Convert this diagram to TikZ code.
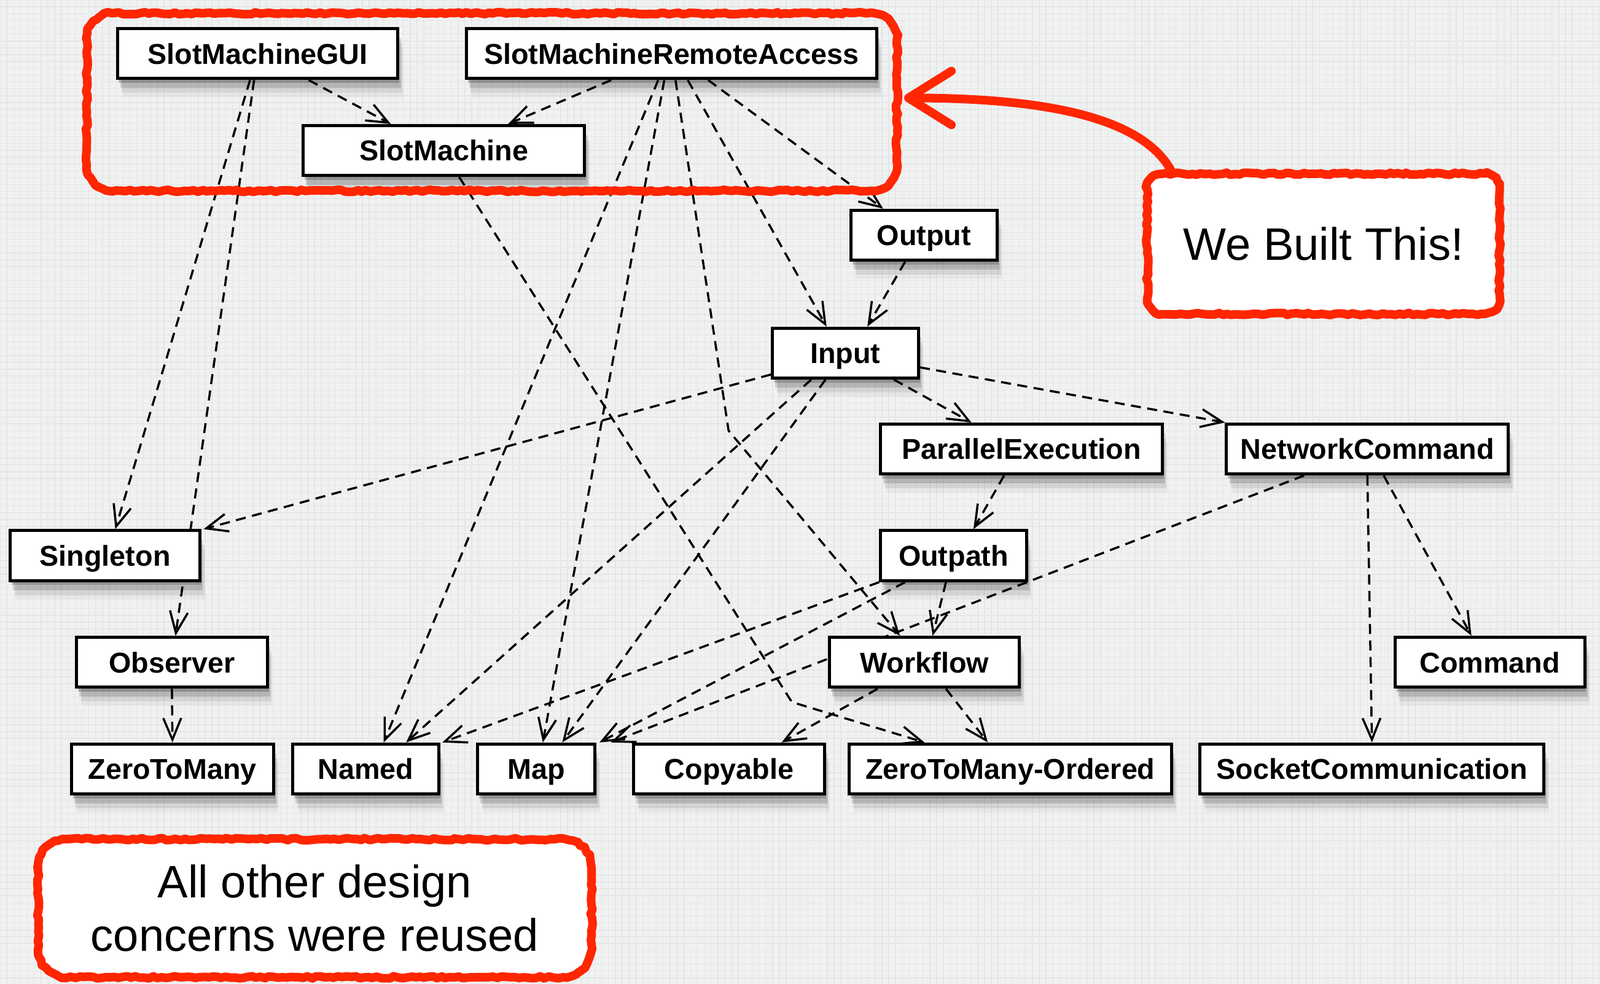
\documentclass[tikz,border=0pt]{standalone}
\usepackage{fontspec}
\setmainfont{Liberation Sans}
\usetikzlibrary{arrows.meta}
\usetikzlibrary{shadows}
\usetikzlibrary{backgrounds}
\usetikzlibrary{decorations.pathmorphing}
\definecolor{markred}{RGB}{255,38,0}
\definecolor{paper}{RGB}{240,241,241}
\definecolor{paperline}{RGB}{229,231,231}

\begin{document}
\begin{tikzpicture}[
			>={Straight Barb[length=6pt,width=5pt]},
			boxshadow/.style={general shadow={shadow xshift=0.4pt, shadow yshift=-1.2pt, fill=black, opacity=0.2}, general shadow={shadow xshift=0.8pt, shadow yshift=-2.6pt, fill=black, opacity=0.14}, general shadow={shadow xshift=1.2pt, shadow yshift=-4pt, fill=black, opacity=0.08}, general shadow={shadow xshift=1.5pt, shadow yshift=-5.2pt, fill=black, opacity=0.04}},
			cls/.style={draw, fill=white, line width=0.85pt, minimum height=0.49cm, inner sep=0pt, text height=5.8pt, text depth=0pt, font=\fontsize{8}{9.6}\selectfont\bfseries, boxshadow},
			dep/.style={->, dash pattern=on 2.8pt off 1.8pt, line width=0.6pt},
			marker/.style={draw=markred, line width=2.4pt, line cap=round, line join=round},
			rough/.style={marker, decorate, decoration={random steps, segment length=1.2pt, amplitude=0.3pt}},
			notetext/.style={align=center, inner sep=0pt, font=\fontsize{12.7}{15}\selectfont}
		]
		\useasboundingbox (0,0) rectangle (15.68,-9.64);

		\begin{pgfonlayer}{background}
			\fill[paper] (0,0) rectangle (15.68,-9.64);
			\draw[paperline, line width=0.25pt, step=0.067] (0,0) grid (15.68,-9.64);
		\end{pgfonlayer}

		\node[cls, minimum width=2.75cm] (gui) at (2.525,-0.525) {SlotMachineGUI};
		\node[cls, minimum width=4.02cm] (remote) at (6.58,-0.525) {SlotMachineRemoteAccess};
		\node[cls, minimum width=2.76cm] (machine) at (4.35,-1.475) {SlotMachine};
		\node[cls, minimum width=1.43cm] (output) at (9.055,-2.305) {Output};
		\node[cls, minimum width=1.43cm] (input) at (8.285,-3.46) {Input};
		\node[cls, minimum width=2.76cm] (parexec) at (10.01,-4.40) {ParallelExecution};
		\node[cls, minimum width=2.76cm] (netcmd) at (13.40,-4.40) {NetworkCommand};
		\node[cls, minimum width=1.86cm] (singleton) at (1.03,-5.445) {Singleton};
		\node[cls, minimum width=1.43cm] (outpath) at (9.345,-5.445) {Outpath};
		\node[cls, minimum width=1.87cm] (observer) at (1.685,-6.49) {Observer};
		\node[cls, minimum width=1.86cm] (workflow) at (9.06,-6.49) {Workflow};
		\node[cls, minimum width=1.86cm] (command) at (14.60,-6.49) {Command};
		\node[cls, minimum width=1.98cm] (zeromany) at (1.69,-7.535) {ZeroToMany};
		\node[cls, minimum width=1.43cm] (named) at (3.585,-7.535) {Named};
		\node[cls, minimum width=1.15cm] (map) at (5.255,-7.535) {Map};
		\node[cls, minimum width=1.87cm] (copyable) at (7.145,-7.535) {Copyable};
		\node[cls, minimum width=3.16cm] (zmordered) at (9.90,-7.535) {ZeroToMany-Ordered};
		\node[cls, minimum width=3.37cm] (socket) at (13.445,-7.535) {SocketCommunication};

		\coordinate (bendremote) at (7.14,-4.22);
		\coordinate (bendmachine) at (7.76,-6.88);

		\begin{pgfonlayer}{background}
			\draw[dep] ([xshift=0.5cm]gui.south) -- ([xshift=-0.52cm]machine.north);
			\draw[dep] ([xshift=-0.59cm]remote.south) -- ([xshift=0.63cm]machine.north);
			\draw[dep] ([xshift=-0.075cm]gui.south) -- ([xshift=0.1cm]singleton.north);
			\draw[dep] ([xshift=-0.035cm]gui.south) -- ([xshift=0.035cm]observer.north);
			\draw[dep] ([xshift=0.36cm]remote.south) -- ([xshift=-0.4cm]output.north);
			\draw[dep] ([xshift=0.16cm]remote.south) -- ([xshift=-0.185cm]input.north);
			\draw[dep] ([xshift=-0.13cm]remote.south) -- ([xshift=0.175cm]named.north);
			\draw[dep] ([xshift=-0.07cm]remote.south) -- ([xshift=0.065cm]map.north);
			\draw[dep] ([xshift=0.04cm]remote.south) -- (bendremote) -- ([xshift=-0.24cm]workflow.north);
			\draw[dep] ([xshift=0.15cm]machine.south) -- (bendmachine) -- ([xshift=-0.84cm]zmordered.north);
			\draw[dep] ([xshift=-0.185cm]output.south) -- ([xshift=0.215cm]input.north);
			\draw[dep] ([yshift=-0.21cm]input.west) -- ([xshift=0.02cm]singleton.north east);
			\draw[dep] ([xshift=-0.335cm]input.south) -- ([xshift=0.395cm]named.north);
			\draw[dep] ([xshift=-0.195cm]input.south) -- ([xshift=0.255cm]map.north);
			\draw[dep] ([xshift=0.475cm]input.south) -- ([xshift=-0.49cm]parexec.north);
			\draw[dep] ([yshift=-0.14cm]input.east) -- (netcmd.north west);
			\draw[dep] ([xshift=-0.17cm]parexec.south) -- ([xshift=0.195cm]outpath.north);
			\draw[dep] ([xshift=-0.075cm]outpath.south) -- ([xshift=0.08cm]workflow.north);
			\draw[dep] (outpath.south west) -- ([xshift=0.02cm]named.north east);
			\draw[dep] ([xshift=-0.475cm]outpath.south) -- ([xshift=0.03cm]map.north east);
			\draw[dep] ([xshift=-0.62cm]netcmd.south) -- ([xshift=0.14cm]map.north east);
			\draw[dep] (netcmd.south) -- (socket.north);
			\draw[dep] ([xshift=0.16cm]netcmd.south) -- ([xshift=-0.18cm]command.north);
			\draw[dep] (observer.south) -- (zeromany.north);
			\draw[dep] ([xshift=-0.46cm]workflow.south) -- ([xshift=0.515cm]copyable.north);
			\draw[dep] ([xshift=0.21cm]workflow.south) -- ([xshift=-0.22cm]zmordered.north);
		\end{pgfonlayer}

		\node[notetext, minimum width=3.44cm, minimum height=1.36cm] (built) at (12.97,-2.39) {We Built This!};
		\node[notetext, minimum width=5.41cm, minimum height=1.34cm] (reused) at (3.085,-8.90) {All other design\\concerns were reused};

		\begin{pgfonlayer}{background}
			\draw[rough, fill=white] (built.north west) [rounded corners=0.15cm] rectangle (built.south east) [sharp corners];
			\draw[rough, fill=white] (reused.north west) [rounded corners=0.28cm] rectangle (reused.south east) [sharp corners];
		\end{pgfonlayer}

		\draw[rough] (0.85,-0.13) [rounded corners=0.25cm] rectangle (8.79,-1.87) [sharp corners];
		\coordinate (grouptip) at (8.86,-0.96);
		\draw[marker, -{Straight Barb[length=12pt,width=15pt,round]}] ([xshift=0.25cm]built.north west) .. controls (11.25,-1.2) and (10.4,-0.96) .. (grouptip);

	\end{tikzpicture}
\end{document}
